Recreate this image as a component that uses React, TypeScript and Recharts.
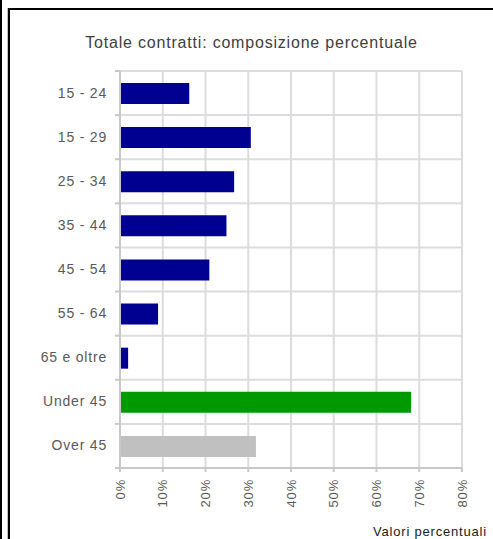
import { BarChart, Bar, XAxis, YAxis, CartesianGrid, Cell } from 'recharts';

// categorie e valori (%)
const categories = ['15 - 24', '15 - 29', '25 - 34', '35 - 44', '45 - 54', '55 - 64', '65 e oltre', 'Under 45', 'Over 45'];
const shares = [16.2, 30.6, 26.7, 24.9, 20.9, 8.9, 1.9, 68.1, 31.8];
const groups = ['age', 'age', 'age', 'age', 'age', 'age', 'age', 'under', 'over'];
const xTicks = [0, 10, 20, 30, 40, 50, 60, 70, 80];

const groupColors: Record<string, string> = {
  age: '#000090',
  under: '#009900',
  over: '#c0c0c0',
};

const data = categories.map((name, i) => ({ name, value: shares[i], group: groups[i] }));

const FONT = '"Liberation Sans", Arial, sans-serif';
const AXIS = '#c8c8c8';
const GRID = '#dcdcdc';
const TICK_SIZE = 6;
const TICK_MARGIN = 7;

function CategoryTick(props: any) {
  const { x, y, payload, index, visibleTicksCount } = props;
  const axisX = x + TICK_SIZE + TICK_MARGIN;
  const half = payload?.offset ?? 0;
  return (
    <g>
      <line x1={axisX - 5} x2={axisX} y1={y - half} y2={y - half} stroke={AXIS} strokeWidth={2} />
      {index === visibleTicksCount - 1 && (
        <line x1={axisX - 5} x2={axisX} y1={y + half} y2={y + half} stroke={AXIS} strokeWidth={2} />
      )}
      <text x={x} y={y} dy={4.5} textAnchor="end" fill="#595959" fontSize={14} fontFamily={FONT} letterSpacing={0.8}>
        {payload.value}
      </text>
    </g>
  );
}

function PercentTick(props: any) {
  const { x, y, payload } = props;
  const tx = x + 4.5;
  return (
    <text
      x={tx}
      y={y}
      transform={`rotate(-90, ${tx}, ${y})`}
      textAnchor="end"
      fill="#595959"
      fontSize={13}
      fontFamily={FONT}
      letterSpacing={0.8}
    >
      {`${payload.value}%`}
    </text>
  );
}

export default function App() {
  return (
    <div style={{ position: 'fixed', left: 0, top: 0, width: 493, height: 539, background: '#fff', fontFamily: FONT, overflow: 'hidden' }}>
      {/* bordi */}
      <div style={{ position: 'absolute', left: 0, top: 0, width: 2, height: 539, background: '#000' }} />
      <div style={{ position: 'absolute', left: 7, top: 8, width: 1, height: 531, background: '#c0c0c0' }} />
      <div style={{ position: 'absolute', left: 8, top: 8, right: 0, bottom: 0, borderLeft: '2px solid #000', borderTop: '2px solid #000' }} />

      <div style={{ position: 'absolute', left: 8, width: 487, top: 34, lineHeight: '18px', fontSize: 16, color: '#404040', textAlign: 'center', whiteSpace: 'nowrap', letterSpacing: 0.8 }}>
        Totale contratti: composizione percentuale
      </div>

      <div style={{ position: 'absolute', left: 0, top: 0 }}>
        <BarChart
          width={493}
          height={539}
          data={data}
          layout="vertical"
          margin={{ top: 71, right: 31, bottom: 26, left: 0 }}
        >
          <CartesianGrid
            stroke={GRID}
            strokeWidth={2}
            horizontalCoordinatesGenerator={({ offset }: any) =>
              categories.map((_, i) => offset.top + (i * offset.height) / categories.length).concat(offset.top + offset.height)
            }
          />
          <XAxis
            type="number"
            domain={[0, 80]}
            ticks={xTicks}
            interval={0}
            height={45}
            axisLine={{ stroke: AXIS, strokeWidth: 2 }}
            tickLine={{ stroke: AXIS, strokeWidth: 2 }}
            tickSize={4}
            tickMargin={7}
            tick={<PercentTick />}
          />
          <YAxis
            type="category"
            dataKey="name"
            width={120}
            interval={0}
            axisLine={{ stroke: AXIS, strokeWidth: 2 }}
            tickLine={false}
            tickSize={TICK_SIZE}
            tickMargin={TICK_MARGIN}
            tick={<CategoryTick />}
          />
          <Bar dataKey="value" barSize={21} isAnimationActive={false}>
            {data.map((d) => (
              <Cell key={d.name} fill={groupColors[d.group]} />
            ))}
          </Bar>
        </BarChart>
      </div>

      <div style={{ position: 'absolute', left: 373, top: 524, lineHeight: '15px', fontSize: 13, color: '#1a1a1a', letterSpacing: 0.8, whiteSpace: 'nowrap' }}>
        Valori percentuali
      </div>
    </div>
  );
}
